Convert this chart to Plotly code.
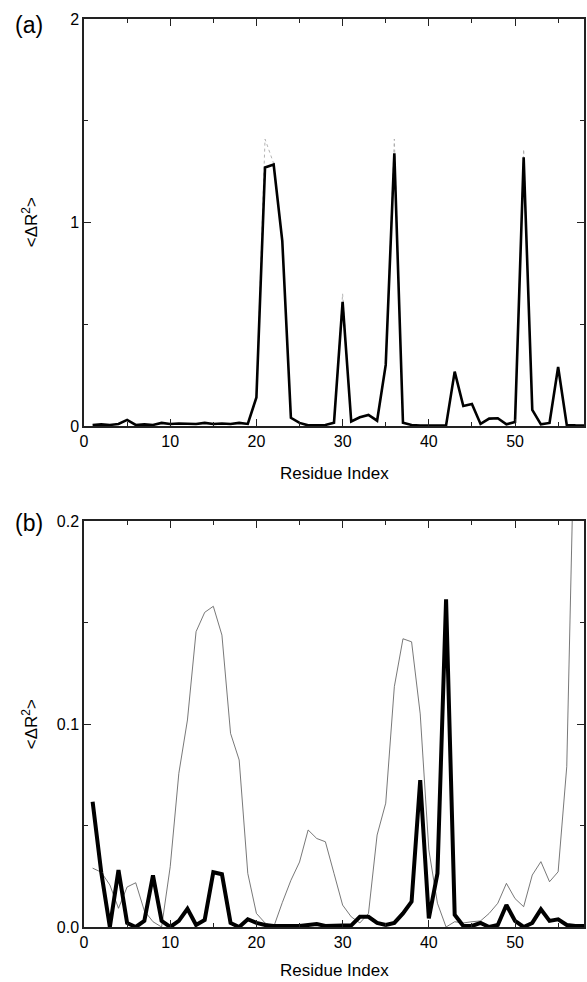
import plotly.graph_objects as go

residues = list(range(1, 59))

# Panel (a)
a_thick = [0.005, 0.008, 0.005, 0.010, 0.030, 0.005, 0.008, 0.005, 0.015, 0.010,
           0.012, 0.012, 0.010, 0.015, 0.010, 0.012, 0.010, 0.015, 0.010, 0.140,
           1.270, 1.285, 0.910, 0.040, 0.015, 0.003, 0.003, 0.005, 0.016, 0.610,
           0.022, 0.043, 0.054, 0.026, 0.300, 1.340, 0.016, 0.005, 0.002, 0.002,
           0.002, 0.003, 0.267, 0.098, 0.108, 0.010, 0.036, 0.038, 0.008, 0.020,
           1.320, 0.079, 0.008, 0.015, 0.290, 0.005, 0.003, 0.002]
a_dotted = [0.005, 0.008, 0.005, 0.010, 0.030, 0.005, 0.008, 0.005, 0.015, 0.010,
            0.012, 0.012, 0.010, 0.015, 0.010, 0.012, 0.010, 0.015, 0.010, 0.140,
            1.410, 1.290, 0.910, 0.040, 0.015, 0.003, 0.003, 0.005, 0.016, 0.650,
            0.022, 0.043, 0.054, 0.026, 0.300, 1.410, 0.016, 0.005, 0.002, 0.002,
            0.002, 0.003, 0.267, 0.098, 0.108, 0.010, 0.036, 0.038, 0.008, 0.020,
            1.360, 0.079, 0.008, 0.015, 0.290, 0.005, 0.003, 0.002]

# Panel (b)
b_thick = [0.0617, 0.027, 0.0, 0.028, 0.002, 0.0, 0.003, 0.0254, 0.003, 0.0,
           0.003, 0.009, 0.001, 0.0035, 0.027, 0.026, 0.002, 0.0, 0.0038, 0.002,
           0.001, 0.0005, 0.0005, 0.0005, 0.0005, 0.001, 0.0015, 0.0005, 0.0005, 0.0005,
           0.0008, 0.005, 0.005, 0.002, 0.001, 0.002, 0.0067, 0.0125, 0.0724, 0.0043,
           0.0264, 0.1614, 0.006, 0.0005, 0.0005, 0.002, 0.0, 0.001, 0.0108, 0.003,
           0.0, 0.002, 0.0087, 0.003, 0.0038, 0.001, 0.0005, 0.0005]
b_thin = [0.029, 0.027, 0.0207, 0.0092, 0.0197, 0.0218, 0.008, 0.0026, 0.0, 0.0297,
          0.0757, 0.102, 0.1455, 0.155, 0.158, 0.1438, 0.0954, 0.0823, 0.0264, 0.0067,
          0.002, 0.0, 0.012, 0.023, 0.032, 0.0478, 0.0436, 0.042, 0.0264, 0.0108,
          0.005, 0.002, 0.0067, 0.0453, 0.061, 0.1184, 0.142, 0.1405, 0.105, 0.038,
          0.0117, 0.0, 0.0026, 0.002, 0.0026, 0.003, 0.0067, 0.0117, 0.0215, 0.014,
          0.01, 0.0256, 0.0322, 0.0223, 0.0272, 0.079, 0.27, 0.35]

x_ticks = [0, 10, 20, 30, 40, 50]
a_yticks = [0, 1, 2]
a_ylabels = ["0", "1", "2"]
b_yticks = [0, 0.1, 0.2]
b_ylabels = ["0.0", "0.1", "0.2"]

FONT = "Liberation Sans, Arial, sans-serif"

fig = go.Figure()
fig.add_trace(go.Scatter(x=residues, y=a_dotted, mode="lines", xaxis="x", yaxis="y",
                         line=dict(color="#aaaaaa", width=0.9, dash="dot"), showlegend=False))
fig.add_trace(go.Scatter(x=residues, y=a_thick, mode="lines", xaxis="x", yaxis="y",
                         line=dict(color="black", width=2.6), showlegend=False))
fig.add_trace(go.Scatter(x=residues, y=b_thin, mode="lines", xaxis="x2", yaxis="y2",
                         line=dict(color="#555555", width=0.8), showlegend=False))
fig.add_trace(go.Scatter(x=residues, y=b_thick, mode="lines", xaxis="x2", yaxis="y2",
                         line=dict(color="black", width=4), showlegend=False))

axis_common = dict(showgrid=False, zeroline=False, showline=True, linecolor="#222222",
                   linewidth=1.5, mirror="ticks", ticks="inside", ticklen=7, tickwidth=1.3,
                   tickcolor="#222222", tickfont=dict(family=FONT, size=16, color="black"))
minor_common = dict(ticks="inside", ticklen=4, tickwidth=1.2, tickcolor="#222222")

fig.update_layout(
    width=587, height=982,
    margin=dict(l=84, r=1, t=19, b=55),
    paper_bgcolor="white", plot_bgcolor="white",
    xaxis=dict(domain=[0, 1], range=[0, 58], anchor="y", tickvals=x_ticks,
               minor=dict(dtick=5, **minor_common), **axis_common),
    yaxis=dict(domain=[0.5518, 1], range=[0, 2], anchor="x", tickvals=a_yticks,
               ticktext=a_ylabels, minor=dict(dtick=0.5, **minor_common), **axis_common),
    xaxis2=dict(domain=[0, 1], range=[0, 58], anchor="y2", tickvals=x_ticks,
                minor=dict(dtick=5, **minor_common), **axis_common),
    yaxis2=dict(domain=[0, 0.4471], range=[0, 0.2], anchor="x2", tickvals=b_yticks,
                ticktext=b_ylabels, minor=dict(dtick=0.05, **minor_common), **axis_common),
)

plot_h = 982 - 19 - 55
def py(p):
    return (982 - 55 - p) / plot_h
def px(p):
    return (p - 84) / (587 - 84 - 1)

ann_font = dict(family=FONT, size=17, color="black")
annotations = [
    dict(text="Residue Index", x=px(335), y=py(473), xref="paper", yref="paper",
         showarrow=False, font=ann_font, xanchor="center", yanchor="middle"),
    dict(text="Residue Index", x=px(335), y=py(971), xref="paper", yref="paper",
         showarrow=False, font=ann_font, xanchor="center", yanchor="middle"),
    dict(text="&lt;ΔR<sup>2</sup>&gt;", x=px(30), y=py(222), xref="paper", yref="paper",
         showarrow=False, font=ann_font, textangle=-90, xanchor="center", yanchor="middle"),
    dict(text="&lt;ΔR<sup>2</sup>&gt;", x=px(30), y=py(724), xref="paper", yref="paper",
         showarrow=False, font=ann_font, textangle=-90, xanchor="center", yanchor="middle"),
    dict(text="(a)", x=px(29), y=py(25), xref="paper", yref="paper",
         showarrow=False, font=dict(family=FONT, size=23, color="black"),
         xanchor="center", yanchor="middle"),
    dict(text="(b)", x=px(29), y=py(523), xref="paper", yref="paper",
         showarrow=False, font=dict(family=FONT, size=23, color="black"),
         xanchor="center", yanchor="middle"),
]
fig.update_layout(annotations=annotations)

fig.write_html("out.html", config={"displayModeBar": False},
               post_script="document.body.style.margin='0px';document.body.style.padding='0px';")
